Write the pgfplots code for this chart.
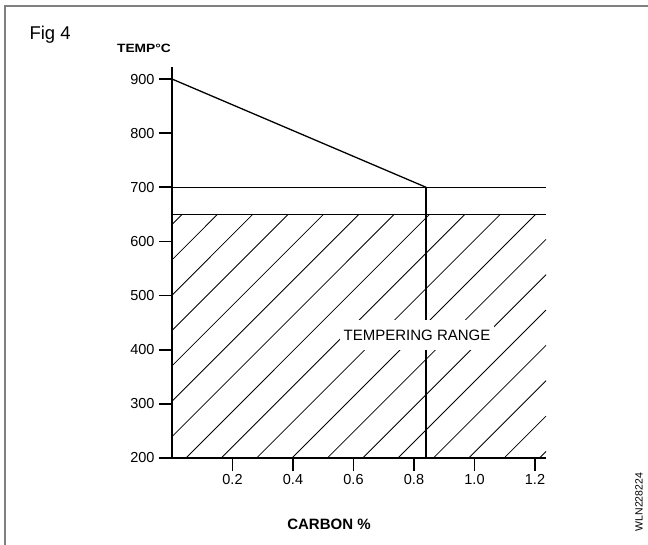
\documentclass[border=0pt]{standalone}
\usepackage{pgfplots}
\pgfplotsset{compat=1.18}
\usepackage{fontspec}
\setmainfont{Liberation Sans}

\begin{document}
\begin{tikzpicture}
\useasboundingbox (-172bp,-87bp) rectangle (476bp,458bp);
% frame (top and left edge only)
\draw[gray, line width=2bp] (-166.5bp,-87bp) -- (-166.5bp,451.5bp) -- (476bp,451.5bp);

\begin{axis}[
scale only axis,
width=374bp, height=391bp,
xmin=0, xmax=1.2364,
ymin=200, ymax=922.2,
axis lines*=left,
axis line style={line width=1.6bp},
xtick={0.2,0.4,0.6,0.8,1.0,1.2},
xticklabels={0.2,0.4,0.6,0.8,1.0,1.2},
ytick={200,300,400,500,600,700,800,900},
tick align=outside,
major tick length=13bp,
every tick/.style={black, line width=1.6bp},
tick label style={font=\fontsize{14.5bp}{17bp}\selectfont},
yticklabel style={xshift=-1bp},
/pgf/number format/assume math mode=true,
unbounded coords=jump,
clip=false,
]
% hatching of the tempering range
\addplot [black, line width=0.8bp] table {%
x y
0 631.3
0.0334 650
nan nan
0 566.0
0.1502 650
nan nan
0 500.7
0.2671 650
nan nan
0 435.4
0.3840 650
nan nan
0 370.1
0.5008 650
nan nan
0 304.8
0.6177 650
nan nan
0 239.5
0.7345 650
nan nan
0.0461 200
0.8514 650
nan nan
0.1630 200
0.9683 650
nan nan
0.2798 200
1.0851 650
nan nan
0.3967 200
1.2020 650
nan nan
0.5136 200
1.2364 603.8
nan nan
0.6304 200
1.2364 538.6
nan nan
0.7473 200
1.2364 473.3
nan nan
0.8641 200
1.2364 408.0
nan nan
0.9810 200
1.2364 342.7
nan nan
1.0979 200
1.2364 277.4
nan nan
1.2147 200
1.2364 212.1
};
% limits
\addplot [black, line width=1.3bp] coordinates {(0,900) (0.84,700)};
\addplot [black, line width=1.4bp] coordinates {(0,700) (1.2364,700)};
\addplot [black, line width=1.4bp] coordinates {(0,650) (1.2364,650)};
\addplot [black, line width=1.4bp] coordinates {(0.84,200) (0.84,700)};
\node[fill=white, inner xsep=4bp, inner ysep=9.5bp, font=\fontsize{15bp}{18bp}\selectfont]
  at (axis cs:0.81,427) {TEMPERING RANGE};
\end{axis}

\node[anchor=base west, font=\fontsize{18.5bp}{22bp}\selectfont] at (-146bp,418bp) {Fig 4};
\node[font=\bfseries\fontsize{12bp}{15bp}\selectfont] at (-28bp,409.5bp) {\scalebox{1.15}[1]{TEMP°C}};
\node[font=\bfseries\fontsize{15bp}{18bp}\selectfont] at (157bp,-66bp) {CARBON \%};
\node[rotate=90, inner sep=1bp, font=\fontsize{10.5bp}{12bp}\selectfont] at (467bp,-44bp) {WLN228224};
\end{tikzpicture}
\end{document}
